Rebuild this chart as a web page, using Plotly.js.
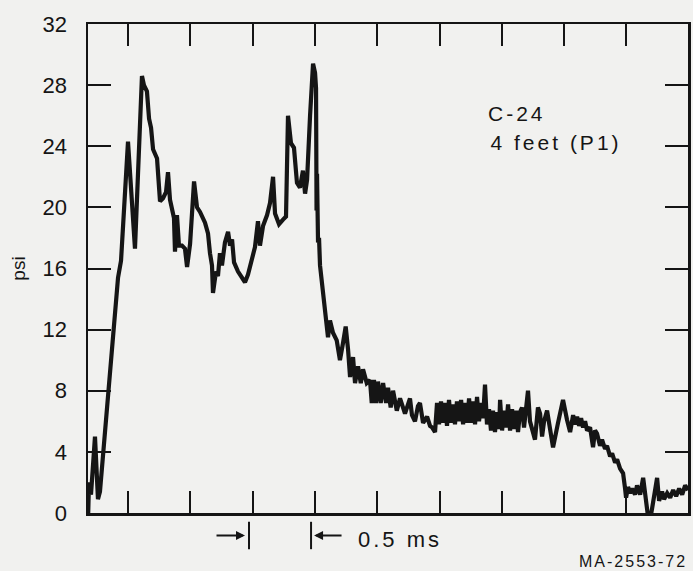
<!DOCTYPE html>
<html>
<head>
<meta charset="utf-8">
<script src="https://cdn.plot.ly/plotly-3.0.1.min.js"></script>
<style>
  html, body { margin: 0; padding: 0; background: #f1f1ef; }
  #chart { width: 693px; height: 571px; }
  g.annotation text { letter-spacing: 3px; }
  g.annotation[data-index="3"] text { letter-spacing: 2px; }
</style>
</head>
<body>
<div id="chart"></div>
<script>
// Time after arrival (ms) and pressure (psi)
var timeMs = [
  -0.337, -0.321, -0.313, -0.297, -0.265, -0.241, -0.225, -0.080, -0.056, 0.000,
  0.056, 0.112, 0.128, 0.152, 0.169, 0.185, 0.201, 0.233, 0.257, 0.281,
  0.305, 0.321, 0.337, 0.353, 0.369, 0.377, 0.393, 0.409, 0.433, 0.457,
  0.474, 0.498, 0.530, 0.554, 0.578, 0.618, 0.642, 0.658, 0.674, 0.682,
  0.706, 0.722, 0.738, 0.754, 0.778, 0.803, 0.819, 0.835, 0.851, 0.883,
  0.915, 0.939, 0.963, 0.995, 1.019, 1.043, 1.059, 1.084, 1.116, 1.140,
  1.164, 1.180, 1.212, 1.244, 1.268, 1.284, 1.308, 1.332, 1.356, 1.380,
  1.404, 1.421, 1.437, 1.461, 1.485, 1.501, 1.509, 1.513, 1.517, 1.525,
  1.533, 1.541, 1.557, 1.565, 1.581, 1.595, 1.605, 1.621, 1.645, 1.675,
  1.701, 1.725, 1.747, 1.766, 1.782, 1.806, 1.822, 1.846, 1.868, 1.886,
  1.916, 1.942, 1.956, 1.974, 1.990, 2.006, 2.028, 2.047, 2.071, 2.087,
  2.108, 2.127, 2.157, 2.183, 2.223, 2.263, 2.279, 2.303, 2.327, 2.343,
  2.368, 2.400, 2.424, 2.440, 2.464, 2.480, 2.496, 2.512, 2.528, 2.544,
  2.560, 2.576, 2.592, 2.608, 2.624, 2.640, 2.657, 2.673, 2.689, 2.705,
  2.721, 2.737, 2.753, 2.769, 2.785, 2.801, 2.817, 2.833, 2.849, 2.865,
  2.881, 2.897, 2.913, 2.929, 2.945, 2.961, 2.978, 2.986, 3.002, 3.018,
  3.034, 3.050, 3.066, 3.082, 3.098, 3.114, 3.130, 3.146, 3.162, 3.178,
  3.194, 3.210, 3.226, 3.242, 3.266, 3.290, 3.307, 3.323, 3.339, 3.363,
  3.387, 3.411, 3.451, 3.491, 3.523, 3.548, 3.572, 3.588, 3.604, 3.620,
  3.636, 3.652, 3.668, 3.684, 3.708, 3.732, 3.748, 3.764, 3.788, 3.804,
  3.828, 3.844, 3.869, 3.885, 3.909, 3.925, 3.949, 3.973, 3.989, 3.997,
  4.013, 4.029, 4.045, 4.069, 4.085, 4.110, 4.134, 4.150, 4.166, 4.182,
  4.206, 4.230, 4.246, 4.262, 4.286, 4.302, 4.327, 4.351, 4.375, 4.399,
  4.423, 4.447, 4.471, 4.495
];
var pressurePsi = [
  -0.6, -0.5, 2.0, 1.2, 5.0, 0.9, 1.4, 15.4, 16.5, 24.3,
  17.3, 28.6, 28.0, 27.6, 25.8, 25.2, 23.8, 23.2, 20.4, 20.6,
  21.0, 22.3, 20.5, 19.9, 19.3, 17.1, 19.5, 17.5, 17.5, 17.3,
  16.1, 17.6, 21.7, 20.0, 19.7, 19.0, 18.3, 17.0, 16.2, 14.4,
  15.8, 15.5, 17.0, 16.2, 17.7, 18.4, 17.5, 17.9, 16.4, 15.8,
  15.4, 15.1, 15.6, 16.5, 17.4, 19.1, 17.5, 18.8, 19.5, 20.3,
  22.0, 19.6, 18.9, 19.2, 19.4, 26.0, 24.2, 23.9, 21.6, 21.3,
  22.4, 20.9, 21.8, 26.0, 29.4, 28.8, 27.8, 19.8, 22.2, 17.7,
  18.0, 16.2, 15.1, 14.1, 13.3, 12.2, 11.5, 12.6, 11.8, 11.3,
  10.0, 11.1, 12.2, 10.7, 8.9, 10.2, 8.5, 9.6, 8.5, 9.4,
  8.5, 8.7, 7.2, 8.7, 7.2, 8.6, 7.2, 8.5, 7.2, 8.2,
  6.9, 8.0, 6.7, 7.5, 6.5, 7.5, 6.4, 6.0, 7.0, 7.2,
  5.9, 6.3, 5.7, 5.6, 5.3, 7.2, 5.8, 7.3, 5.9, 7.2,
  5.7, 7.4, 5.9, 7.1, 5.8, 7.3, 6.0, 7.4, 5.8, 7.2,
  5.9, 7.5, 5.9, 7.3, 5.8, 7.6, 6.0, 7.2, 6.2, 8.4,
  5.8, 6.8, 5.4, 6.7, 5.3, 6.6, 5.5, 7.4, 5.4, 6.7,
  5.6, 7.1, 5.4, 6.8, 5.5, 6.7, 5.3, 6.6, 6.9, 5.6,
  6.6, 8.0, 6.0, 5.6, 4.8, 6.9, 6.5, 5.0, 6.0, 6.7,
  5.4, 4.3, 5.9, 7.4, 6.1, 5.3, 6.4, 5.8, 6.3, 5.7,
  6.2, 5.6, 6.0, 5.4, 5.6, 4.3, 5.4, 5.2, 4.4, 4.8,
  4.2, 4.4, 3.7, 3.9, 3.3, 3.5, 2.9, 2.6, 1.6, 1.0,
  1.7, 1.3, 1.6, 1.2, 1.8, 1.2, 2.3, 1.0, 0.0, -0.8,
  0.3, 1.3, 2.3, 0.8, 1.4, 0.9, 1.3, 1.0, 1.5, 1.1,
  1.6, 1.2, 1.8, 1.5
];
var xTickVals = [0, 0.5, 1.0, 1.5, 2.0, 2.5, 3.0, 3.5, 4.0];
var yTickVals = [0, 4, 8, 12, 16, 20, 24, 28, 32];
var yTickText = ['0', '4', '8', '12', '16', '20', '24', '28', '32'];
var labelLines = ['C-24', '4 feet (P1)'];
var scaleLabel = '0.5 ms';
var figureId = 'MA-2553-72';
var yTitle = 'psi';

var ink = '#151515';
var bg = '#f1f1ef';
var fontFam = '"Liberation Sans", Arial, Helvetica, sans-serif';

var trace = {
  x: timeMs,
  y: pressurePsi,
  type: 'scatter',
  mode: 'lines',
  line: { color: ink, width: 4.2 },
  hoverinfo: 'skip',
  showlegend: false
};

var layout = {
  width: 693,
  height: 571,
  margin: { l: 88, r: 5, t: 24, b: 58, pad: 0 },
  paper_bgcolor: bg,
  plot_bgcolor: bg,
  font: { family: fontFam, color: ink },
  showlegend: false,
  xaxis: {
    range: [-0.321, 4.494],
    tickvals: xTickVals,
    showticklabels: false,
    ticks: 'inside',
    ticklen: 22,
    tickwidth: 2,
    tickcolor: ink,
    showline: true,
    linecolor: ink,
    linewidth: 2.5,
    mirror: 'ticks',
    showgrid: false,
    zeroline: false,
    fixedrange: true
  },
  yaxis: {
    range: [0, 32],
    tickvals: yTickVals,
    ticktext: yTickText,
    ticks: 'inside',
    ticklen: 23,
    tickwidth: 2,
    tickcolor: ink,
    ticklabelstandoff: 14,
    tickfont: { family: fontFam, size: 22, color: ink },
    showline: true,
    linecolor: ink,
    linewidth: 2.5,
    mirror: 'ticks',
    showgrid: false,
    zeroline: false,
    fixedrange: true,
    title: { text: yTitle, font: { family: fontFam, size: 19, color: ink }, standoff: 12 }
  },
  shapes: [
    { type: 'line', xref: 'x', yref: 'paper', x0: 0.971, x1: 0.971, y0: -0.018, y1: -0.074,
      line: { color: ink, width: 2 } },
    { type: 'line', xref: 'x', yref: 'paper', x0: 1.469, x1: 1.469, y0: -0.018, y1: -0.074,
      line: { color: ink, width: 2 } }
  ],
  annotations: [
    { text: labelLines[0], xref: 'paper', yref: 'paper', x: 0.715, y: 0.816,
      xanchor: 'center', yanchor: 'middle', showarrow: false,
      font: { family: fontFam, size: 21, color: ink } },
    { text: labelLines[1], xref: 'paper', yref: 'paper', x: 0.780, y: 0.757,
      xanchor: 'center', yanchor: 'middle', showarrow: false,
      font: { family: fontFam, size: 21, color: ink } },
    { text: scaleLabel, xref: 'paper', yref: 'paper', x: 0.520, y: -0.055,
      xanchor: 'center', yanchor: 'middle', showarrow: false,
      font: { family: fontFam, size: 22, color: ink } },
    { text: figureId, xref: 'paper', yref: 'paper', x: 0.908, y: -0.100,
      xanchor: 'center', yanchor: 'middle', showarrow: false,
      font: { family: fontFam, size: 16, color: ink } },
    { text: '', xref: 'x', yref: 'paper', x: 0.939, y: -0.046,
      axref: 'pixel', ayref: 'pixel', ax: -30, ay: 0, showarrow: true,
      arrowhead: 2, arrowsize: 1, arrowwidth: 1.8, arrowcolor: ink, standoff: 0 },
    { text: '', xref: 'x', yref: 'paper', x: 1.493, y: -0.046,
      axref: 'pixel', ayref: 'pixel', ax: 29, ay: 0, showarrow: true,
      arrowhead: 2, arrowsize: 1, arrowwidth: 1.8, arrowcolor: ink, standoff: 0 }
  ]
};

Plotly.newPlot('chart', [trace], layout, { staticPlot: true, displayModeBar: false });
</script>
</body>
</html>
